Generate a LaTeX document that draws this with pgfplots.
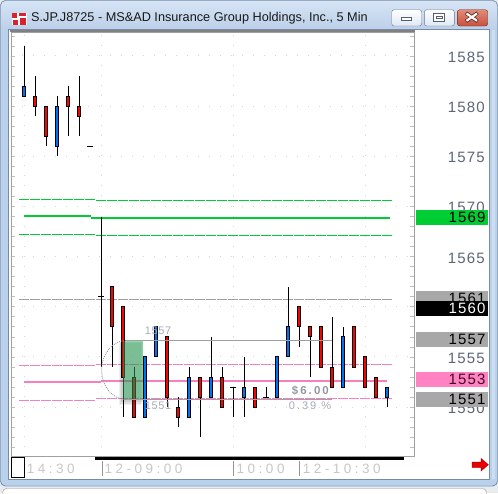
\documentclass[border=0pt]{standalone}
\usepackage{pgfplots}
\pgfplotsset{compat=1.18}
\usepackage{pgfplotstable}
\usepackage{fontspec}
\setmainfont{Liberation Sans}
\newfontfamily\pricefont[LetterSpace=8]{Liberation Sans}
\newfontfamily\timefont[LetterSpace=26]{Liberation Sans}
\newfontfamily\annfont[LetterSpace=6]{Liberation Sans}
\newfontfamily\pnlfont[LetterSpace=18]{Liberation Sans}

% palette
\definecolor{upblue}{RGB}{0,115,245}
\definecolor{downred}{RGB}{255,0,0}
\definecolor{lvlgreen}{RGB}{0,204,51}
\definecolor{lvlpink}{RGB}{245,128,192}
\definecolor{lvlgray}{RGB}{160,160,160}
\definecolor{boxgray}{RGB}{168,168,168}
\definecolor{boxpink}{RGB}{255,130,195}
\definecolor{boxpinktext}{RGB}{70,10,35}
\definecolor{pricecol}{RGB}{92,102,120}
\definecolor{timecol}{RGB}{203,198,196}
\definecolor{anngray}{RGB}{165,172,185}
\definecolor{pnlgray}{RGB}{150,152,160}
\definecolor{gridgray}{RGB}{215,215,215}
\definecolor{tickgray}{RGB}{190,190,190}
\definecolor{axgray}{RGB}{160,160,160}
\definecolor{paneledge}{RGB}{128,128,128}
\definecolor{sepgray}{RGB}{150,150,150}
\definecolor{framebl}{RGB}{185,209,234}
\definecolor{framestrip}{RGB}{205,222,240}
\definecolor{titletop}{RGB}{214,228,245}
\definecolor{titlebot}{RGB}{188,208,233}
\definecolor{framedk}{RGB}{90,105,125}
\definecolor{clientedge}{RGB}{120,138,165}
\definecolor{titletext}{RGB}{25,25,25}
\definecolor{btnfill}{RGB}{222,232,244}
\definecolor{btnedge}{RGB}{105,120,142}
\definecolor{closetop}{RGB}{225,140,120}
\definecolor{closered}{RGB}{200,80,62}
\definecolor{closeedge}{RGB}{120,40,30}
\definecolor{closex}{RGB}{90,30,25}
\definecolor{deskgray}{RGB}{232,235,239}
\definecolor{barborder}{RGB}{150,150,150}
\definecolor{iconred}{RGB}{215,35,45}
\definecolor{hlgreen}{RGB}{40,175,95}
\definecolor{arrowred}{RGB}{235,0,0}
\definecolor{arrowedge}{RGB}{170,0,0}
\definecolor{arcgray}{RGB}{140,140,140}

% 5-minute bars: index, open, high, low, close
\pgfplotstableread{
k o h l c
0 1581 1586 1581 1582
1 1581 1583 1579 1580
2 1580 1580 1576 1577
3 1576 1581 1575 1580
4 1581 1582 1577 1580
5 1580 1583 1577 1579
6 1576 1576 1576 1576
7 1561 1569 1554 1561
8 1562 1562 1554 1558
9 1560 1560 1549 1553
10 1553 1554 1549 1549
11 1549 1555 1549 1555
12 1555 1558 1555 1558
13 1557 1557 1550 1551
14 1550 1551 1548 1549
15 1549 1554 1549 1553
16 1553 1553 1547 1551
17 1551 1557 1551 1553
18 1553 1554 1550 1550
19 1552 1552 1549 1552
20 1551 1555 1549 1552
21 1552 1552 1550 1550
22 1551 1552 1551 1551
23 1551 1555 1551 1555
24 1555 1562 1555 1558
25 1560 1560 1556 1558
26 1558 1558 1553 1557
27 1558 1558 1554 1554
28 1554 1559 1552 1552
29 1552 1558 1552 1557
30 1558 1558 1554 1554
31 1555 1555 1552 1552
32 1553 1553 1551 1551
33 1551 1552 1550 1552
}\candles

\begin{document}
\begin{tikzpicture}
\useasboundingbox (0,0) rectangle (498pt,-493pt);

% ---- window chrome (background) ----
\begin{scope}[x=1pt,y=-1pt]
  \fill[deskgray] (0,0) rectangle (498,493);
  \draw[barborder, rounded corners=4pt, fill=white] (2.5,488.5) rectangle (486.5,500);
  \fill[framebl, rounded corners=5pt] (0,0) rectangle (498,486.5);
  \shade[top color=titletop, bottom color=titlebot] (1,1) rectangle (497,29);
  \draw[framedk, rounded corners=5pt] (0.5,0.5) -- (0.5,486) -- (497.5,486) -- (497.5,0.5) -- cycle;
  \fill[framestrip] (491.5,30) rectangle (495,479);
  \fill[white] (9,30) rectangle (489,479);
  \draw[clientedge] (8.5,29.5) rectangle (489.5,479.5);
\end{scope}

\begin{axis}[
  at={(11pt,-32pt)}, anchor=north west,
  scale only axis, width=403pt, height=424pt,
  xmin=-1.1818, xmax=35.4545,
  ymin=1545.13, ymax=1587.39,
  axis line style={draw=axgray, line width=0.8pt},
  xtick={0,7,19,31}, xticklabels={}, xtick style={draw=none},
  xmajorgrids, ymajorgrids,
  major x grid style={draw=gridgray, line width=1pt, dash pattern=on 1pt off 9.033pt, dash phase=1.33pt},
  major y grid style={draw=gridgray, line width=1pt, dash pattern=on 1pt off 10pt},
  ytick={1550,1555,...,1585},
  minor ytick={1546,...,1587},
  yticklabel pos=right,
  tick align=inside,
  major tick length=4pt, minor tick length=4pt,
  ytick style={draw=tickgray, line width=0.8pt},
  yticklabel style={font=\pricefont\fontsize{15}{15}\selectfont, text=pricecol,
    anchor=east, inner sep=0pt, xshift=71pt, yshift=-1.3pt},
  /pgf/number format/assume math mode=true,
  /pgf/number format/1000 sep={},
]

% price bands (previous session / today)
\addplot[draw=lvlgreen, line width=1.3pt, dash pattern=on 9.7pt off 1.3pt] coordinates {(-0.45,1570.695) (6.45,1570.695)};
\addplot[draw=lvlgreen, line width=1.3pt, dash pattern=on 9.7pt off 1.3pt] coordinates {(6.55,1570.596) (33.45,1570.596)};
\addplot[draw=lvlgreen, line width=1.3pt, dash pattern=on 9.7pt off 1.3pt] coordinates {(-0.45,1567.207) (6.45,1567.207)};
\addplot[draw=lvlgreen, line width=1.3pt, dash pattern=on 9.7pt off 1.3pt] coordinates {(6.55,1567.107) (33.45,1567.107)};
\addplot[draw=lvlgreen, line width=2pt] coordinates {(0,1569.051) (6.1,1569.051)};
\addplot[draw=lvlgreen, line width=2pt] coordinates {(6.1,1568.851) (33.3,1568.851)};

\addplot[draw=lvlgray, line width=1pt, dash pattern=on 9.7pt off 1.3pt] coordinates {(-0.45,1560.728) (33.45,1560.728)};

\addplot[draw=lvlpink, line width=1.1pt, dash pattern=on 9.7pt off 1.3pt] coordinates {(-0.45,1554.15) (6.45,1554.15)};
\addplot[draw=lvlpink, line width=1.1pt, dash pattern=on 9.7pt off 1.3pt] coordinates {(6.55,1554.25) (33.45,1554.25)};
\addplot[draw=lvlpink, line width=1.1pt, dash pattern=on 9.7pt off 1.3pt] coordinates {(-0.45,1550.662) (6.45,1550.662)};
\addplot[draw=lvlpink, line width=1.1pt, dash pattern=on 9.7pt off 1.3pt] coordinates {(6.55,1550.861) (33.45,1550.861)};
\addplot[draw=lvlpink, line width=2pt] coordinates {(0,1552.505) (7,1552.505)};
\addplot[draw=lvlpink, line width=2pt] coordinates {(7,1552.605) (33,1552.605)};

% candlesticks
\pgfplotsinvokeforeach{0,...,33}{%
  \pgfplotstablegetelem{#1}{o}\of\candles \let\cO\pgfplotsretval
  \pgfplotstablegetelem{#1}{h}\of\candles \let\cH\pgfplotsretval
  \pgfplotstablegetelem{#1}{l}\of\candles \let\cL\pgfplotsretval
  \pgfplotstablegetelem{#1}{c}\of\candles \let\cC\pgfplotsretval
  \pgfmathsetmacro\xa{#1-0.18}\pgfmathsetmacro\xb{#1+0.18}%
  \pgfmathsetmacro\ta{#1-0.25}\pgfmathsetmacro\tb{#1+0.25}%
  \edef\doplot{\noexpand\addplot[black, line width=1pt, mark=none] coordinates {(#1,\cL) (#1,\cH)};}\doplot
  \ifdim\cC pt=\cO pt
    \edef\doplot{\noexpand\addplot[black, line width=1pt, mark=none] coordinates {(\ta,\cO) (\tb,\cO)};}\doplot
  \else
    \ifdim\cC pt>\cO pt \def\ccol{upblue}\else\def\ccol{downred}\fi
    \edef\doplot{\noexpand\addplot[draw=black, line width=1pt, fill=\ccol, mark=none] coordinates {(\xa,\cO) (\xb,\cO) (\xb,\cC) (\xa,\cC)} --cycle;}\doplot
  \fi
}

% measured range 1557 - 1551
\fill[black, opacity=0.06] (axis cs:8.6,1556.35) rectangle (axis cs:10.65,1550.25);
\fill[black, opacity=0.07] (axis cs:8.75,1556.45) rectangle (axis cs:10.7,1550.35);
\fill[black, opacity=0.07] (axis cs:8.85,1556.5) rectangle (axis cs:10.78,1550.5);
\fill[hlgreen, opacity=0.5] (axis cs:9.03,1556.59) rectangle (axis cs:10.85,1550.71);
\draw[lvlgray, line width=1pt] (axis cs:9.27,1556.642) -- (axis cs:27.97,1556.642);
\draw[lvlgray, line width=1pt] (axis cs:9.27,1550.761) -- (axis cs:27.97,1550.761);
\draw[arcgray, line width=0.8pt, dash pattern=on 0.9pt off 1.1pt] (axis cs:9.27,1556.642) arc[start angle=90, end angle=270, x radius=24.3pt, y radius=29.5pt];
\node[font=\annfont\fontsize{11}{11}\selectfont, text=anngray, inner sep=0] at (axis cs:12.18,1557.59) {1557};
\node[font=\annfont\fontsize{11}{11}\selectfont, text=anngray, inner sep=0] at (axis cs:12.18,1550.11) {1551};
\node[font=\pnlfont\bfseries\fontsize{11.5}{11.5}\selectfont, text=pnlgray, inner sep=0] at (axis cs:26.03,1551.64) {\$6.00};
\node[font=\pnlfont\fontsize{11}{11}\selectfont, text=anngray, inner sep=0] at (axis cs:26.0,1550.11) {0.39 \%};

% anchors for the price boxes
\coordinate (b1569) at (axis cs:35.4545,1568.95);
\coordinate (b1561) at (axis cs:35.4545,1560.86);
\coordinate (b1560) at (axis cs:35.4545,1559.88);
\coordinate (b1557) at (axis cs:35.4545,1556.77);
\coordinate (b1553) at (axis cs:35.4545,1552.73);
\coordinate (b1551) at (axis cs:35.4545,1550.79);
\end{axis}

% ---- price boxes on the right scale ----
\tikzset{pbox/.style={anchor=east, minimum height=15pt, text width=68pt, align=right,
  inner xsep=2pt, inner ysep=0pt, font=\pricefont\fontsize{15}{15}\selectfont}}
\node[pbox, fill=lvlgreen, text=black] at ([xshift=73.7pt]b1569) {1569};
\node[pbox, fill=boxgray, text=black] at ([xshift=73.7pt]b1561) {1561};
\node[pbox, fill=black, text=white] at ([xshift=73.7pt]b1560) {1560};
\node[pbox, fill=boxgray, text=black] at ([xshift=73.7pt]b1557) {1557};
\node[pbox, fill=boxpink, text=boxpinktext] at ([xshift=73.7pt]b1553) {1553};
\node[pbox, fill=boxgray, text=black] at ([xshift=73.7pt]b1551) {1551};

% ---- window chrome (foreground) ----
\begin{scope}[x=1pt,y=-1pt]
  % chart panel top edge
  \draw[paneledge, line width=2pt] (10,31) -- (414.5,31);
  % icon
  \fill[white] (11.5,12.5) rectangle (26.5,25);
  \fill[iconred] (12,13) rectangle (17,18);
  \fill[iconred] (19,13) rectangle (26,16);
  \fill[iconred] (13,20) rectangle (18,24.5);
  \fill[iconred] (20,18) rectangle (26,24.5);
  % title
  \node[anchor=base west, inner sep=0, text=titletext, font=\fontsize{12.7}{14}\selectfont] at (31,21.7)
    {S.JP.J8725 - MS\&AD Insurance Group Holdings, Inc., 5 Min};
  % caption buttons
  \shade[top color=white, bottom color=btnfill, draw=btnedge, rounded corners=2.5pt] (391.7,9.7) rectangle (421.7,26);
  \shade[top color=white, bottom color=btnfill, draw=btnedge, rounded corners=2.5pt] (424.3,9.7) rectangle (454.3,26);
  \shade[top color=closetop, bottom color=closered, draw=closeedge, rounded corners=2.5pt] (457.3,9.7) rectangle (487.7,26);
  \draw[fill=white, draw=btnedge!80!black] (401.5,17) rectangle (411.5,20.5);
  \draw[fill=white, draw=btnedge!80!black] (433.5,13.3) rectangle (444.5,21);
  \draw[draw=btnedge!80!black] (436,16) rectangle (442,18.5);
  \draw[line width=3.6pt, closex] (466,13) -- (477.5,21.3) (466,21.3) -- (477.5,13);
  \draw[line width=2.2pt, white] (466.5,13.5) -- (477,20.8) (466.5,20.8) -- (477,13.5);
  % time scale
  \fill[black] (95,457) rectangle (404,459.7);
  \draw[black, fill=white] (11.5,457.5) rectangle (24.5,477.5);
  \draw[sepgray] (101.7,461) -- (101.7,475.5) (233.3,461) -- (233.3,475.5) (299.3,461) -- (299.3,475.5);
  \node[anchor=west, inner sep=0, text=timecol, font=\timefont\fontsize{13.5}{13.5}\selectfont] at (26.7,469.3) {14:30};
  \node[anchor=west, inner sep=0, text=timecol, font=\timefont\fontsize{13.5}{13.5}\selectfont] at (104.3,469.3) {12-09:00};
  \node[anchor=west, inner sep=0, text=timecol, font=\timefont\fontsize{13.5}{13.5}\selectfont] at (236.5,469.3) {10:00};
  \node[anchor=west, inner sep=0, text=timecol, font=\timefont\fontsize{13.5}{13.5}\selectfont] at (302.7,469.3) {12-10:30};
  % scroll arrow
  \fill[arrowred, draw=arrowedge, line width=0.5pt]
    (472,462) -- (481,462) -- (481,458.5) -- (488.3,464.7) -- (481,471) -- (481,467.3) -- (472,467.3) -- cycle;
\end{scope}
\end{tikzpicture}
\end{document}
